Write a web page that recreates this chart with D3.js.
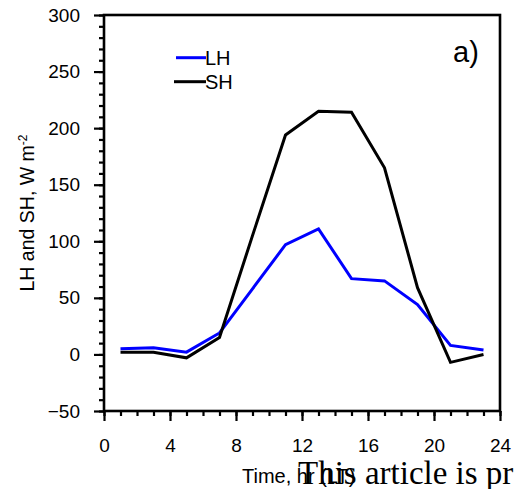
<!DOCTYPE html>
<html>
<head>
<meta charset="utf-8">
<script src="https://cdn.jsdelivr.net/npm/d3@7"></script>
<style>
  html, body { margin: 0; padding: 0; background: #fff; }
  svg { display: block; }
  text { font-family: "Liberation Sans", Arial, Helvetica, sans-serif; fill: #000; }
</style>
</head>
<body>
<svg id="chart" width="515" height="489"></svg>
<script>
// ---- data ----
const hours = [1, 3, 5, 7, 9, 11, 13, 15, 17, 19, 21, 23];
const lhValues = [5, 6, 2, 19, 58, 97, 111, 67, 65, 44, 8, 4];
const shValues = [2, 2, -3, 15, 105, 194, 215, 214, 165, 59, -7, 0];
const xTicks = [0, 4, 8, 12, 16, 20, 24];
const yTicks = [-50, 0, 50, 100, 150, 200, 250, 300];
const seriesNames = ["LH", "SH"];
const seriesColors = ["#0000ff", "#000000"];

const svg = d3.select("#chart");
const x = d3.scaleLinear().domain([0, 24]).range([104, 500]);
const y = d3.scaleLinear().domain([-50, 300]).range([411, 15]);

// frame
svg.append("rect")
  .attr("x", x(0)).attr("y", y(300))
  .attr("width", x(24) - x(0)).attr("height", y(-50) - y(300))
  .attr("fill", "none").attr("stroke", "#000").attr("stroke-width", 2.6);

// left axis: minor and major
const yMinor = d3.range(-50, 301, 10);
const yAxisMinor = d3.axisLeft(y).tickValues(yMinor).tickSize(5).tickFormat("");
const gyMinor = svg.append("g").attr("transform", `translate(${x(0)},0)`).call(yAxisMinor);
const yAxisMajor = d3.axisLeft(y).tickValues(yTicks).tickSize(10).tickPadding(14).tickFormat(d3.format("d"));
const gy = svg.append("g").attr("transform", `translate(${x(0)},0)`).call(yAxisMajor);

// bottom axis
const xMinor = d3.range(0, 25, 1);
const xAxisMinor = d3.axisBottom(x).tickValues(xMinor).tickSize(5).tickFormat("");
const gxMinor = svg.append("g").attr("transform", `translate(0,${y(-50)})`).call(xAxisMinor);
const xAxisMajor = d3.axisBottom(x).tickValues(xTicks).tickSize(10).tickPadding(18).tickFormat(d3.format("d"));
const gx = svg.append("g").attr("transform", `translate(0,${y(-50)})`).call(xAxisMajor);

[gyMinor, gy, gxMinor, gx].forEach(g => {
  g.select(".domain").remove();
  g.selectAll(".tick line").attr("stroke", "#000").attr("stroke-width", 2.2);
  g.selectAll(".tick text").style("font-family", '"Liberation Sans", Arial, sans-serif')
    .style("font-size", "19px").attr("fill", "#000");
});

// lines
const line = d3.line().x((d, i) => x(hours[i])).y(d => y(d));
[lhValues, shValues].forEach((vals, k) => {
  svg.append("path").datum(vals)
    .attr("d", line)
    .attr("fill", "none")
    .attr("stroke", seriesColors[k])
    .attr("stroke-width", 3)
    .attr("stroke-linejoin", "miter");
});

// legend
const legY = [57.7, 81.7];
const legX0 = [176, 174];
seriesNames.forEach((name, k) => {
  svg.append("line")
    .attr("x1", legX0[k]).attr("x2", 206).attr("y1", legY[k]).attr("y2", legY[k])
    .attr("stroke", seriesColors[k]).attr("stroke-width", 3);
  svg.append("text")
    .attr("x", 205).attr("y", legY[k]).attr("dy", "0.36em")
    .style("font-size", "20px").text(name);
});

// panel label
svg.append("text").attr("x", 453).attr("y", 62).style("font-size", "29px").text("a)");

// y axis title
const yt = svg.append("text")
  .attr("transform", `translate(34,${(y(300) + y(-50)) / 2}) rotate(-90)`)
  .attr("text-anchor", "middle")
  .style("font-size", "19.5px");
yt.append("tspan").text("LH and SH, W m");
yt.append("tspan").attr("dy", "-0.6em").style("font-size", "12px").text("-2");

// x axis title
svg.append("text").attr("x", 242).attr("y", 483).style("font-size", "20px").text("Time, hr (LT)");

// overlay text
svg.append("text").attr("x", 298).attr("y", 484)
  .style("font-family", '"Liberation Serif", "Times New Roman", serif')
  .style("font-size", "33px").text("This article is pr");
</script>
</body>
</html>
